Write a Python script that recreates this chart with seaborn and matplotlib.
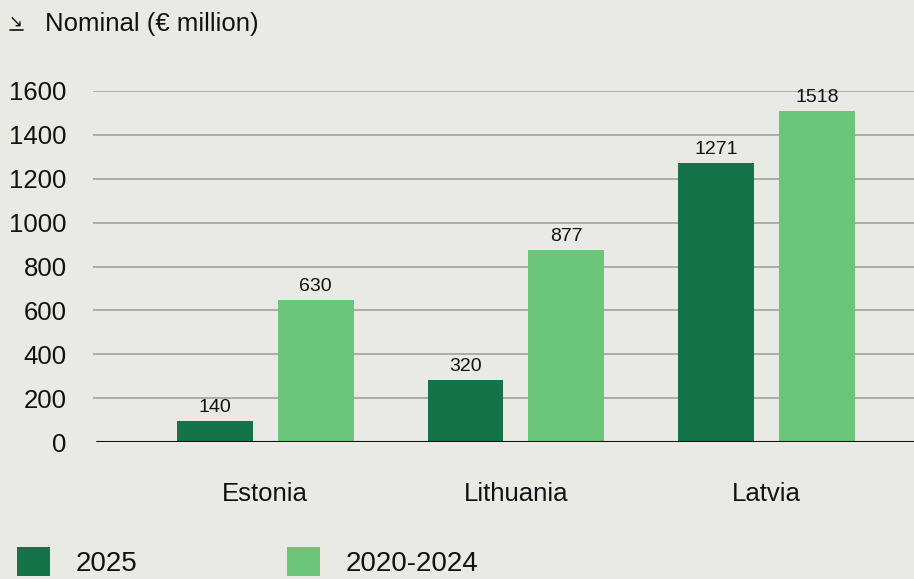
import matplotlib
matplotlib.use("Agg")
import matplotlib.pyplot as plt
from matplotlib.patches import Patch
from matplotlib.lines import Line2D
import seaborn as sns
import pandas as pd

countries = ["Estonia", "Lithuania", "Latvia"]
periods = ["2025", "2020-2024"]
values_2025 = [95, 283, 1271]
values_2020_2024 = [648, 877, 1508]
labels_2025 = ["140", "320", "1271"]
labels_2020_2024 = ["630", "877", "1518"]
yticks = [0, 200, 400, 600, 800, 1000, 1200, 1400, 1600]

BG = "#EAEAE5"
DARK = "#147348"
LIGHT = "#6CC67A"

df = pd.DataFrame({
    "country": countries * 2,
    "period": [periods[0]] * 3 + [periods[1]] * 3,
    "value": values_2025 + values_2020_2024,
})

sns.set_theme(style="white")
plt.rcParams["font.family"] = ["Liberation Sans", "DejaVu Sans"]

fig = plt.figure(figsize=(9.14, 5.79), dpi=100, facecolor=BG)
ax = fig.add_axes([93 / 914, 137 / 579, 821 / 914, 351 / 579])
ax.set_facecolor(BG)

for t in yticks[1:]:
    ax.axhline(t, color="#ABABA8", lw=1.4, zorder=0)

sns.barplot(data=df, x="country", y="value", hue="period",
            palette=[DARK, LIGHT], width=0.805, gap=0.248,
            saturation=1, legend=False, ax=ax, zorder=2, linewidth=0)

ax.set_xlim(-0.687, 2.588)
ax.set_ylim(0, 1600)
ax.axhline(0, xmin=4 / 821, xmax=1, color="#111111", lw=1.5, zorder=3)

for cont, labs in zip(ax.containers, [labels_2025, labels_2020_2024]):
    ax.bar_label(cont, labels=labs, padding=3.5, fontsize=14, color="#111111")

for s in ax.spines.values():
    s.set_visible(False)
ax.set_yticks(yticks)
ax.set_yticklabels([str(v) for v in yticks])
ax.tick_params(axis="y", length=0, pad=19, labelsize=18.5, labelcolor="#111111")
ax.tick_params(axis="x", length=0, pad=29, labelsize=18.5, labelcolor="#111111")
ax.set_xlabel("")
ax.set_ylabel("")

fig.text(9 / 914, 1 - 22 / 579, "↘", fontsize=12, color="#111111",
         va="center", ha="left", family=["DejaVu Sans"])
fig.add_artist(Line2D([10 / 914, 23 / 914], [1 - 30 / 579, 1 - 30 / 579],
                      color="#111111", lw=1.2, transform=fig.transFigure))
fig.text(45 / 914, 1 - 24 / 579, "Nominal (€ million)", fontsize=18.5,
         color="#111111", va="center", ha="left")

handles = [Patch(facecolor=DARK, edgecolor="none"),
           Patch(facecolor=LIGHT, edgecolor="none")]
fig.legend(handles, periods, loc="center left",
           bbox_to_anchor=(17 / 914, 1 - 562 / 579), frameon=False,
           ncol=2, fontsize=20, handlelength=1.2, handleheight=1.2,
           handletextpad=0.9, columnspacing=5.4, borderpad=0,
           borderaxespad=0, labelcolor="#111111")

fig.savefig("out.png", dpi=100, facecolor=BG)
